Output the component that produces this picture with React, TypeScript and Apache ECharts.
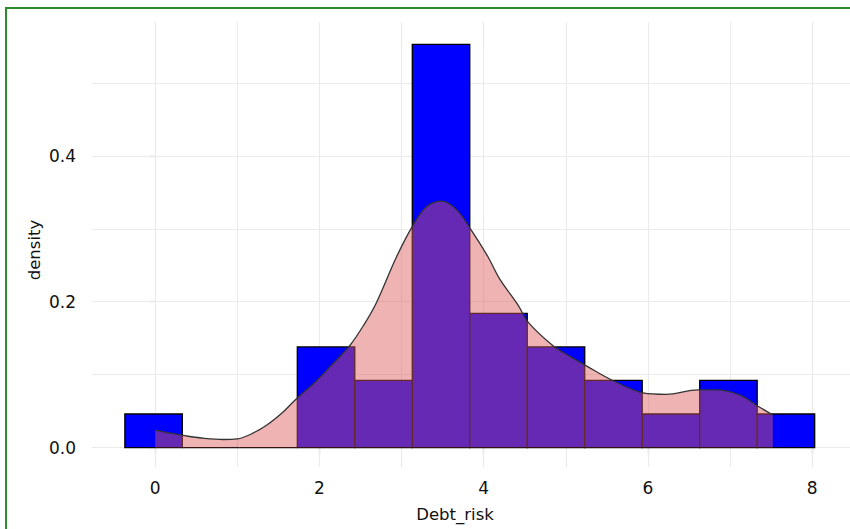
import React, { useEffect, useRef } from "react";
import * as echarts from "echarts";

// Histogram bins (Debt_risk), left edges and density heights
const binEdges = [-0.37, 0.33, 1.03, 1.73, 2.43, 3.13, 3.83, 4.53, 5.23, 5.93, 6.63, 7.33, 8.03];
const binDensity = [0.046, 0, 0, 0.138, 0.092, 0.553, 0.184, 0.138, 0.092, 0.046, 0.092, 0.046];

// Kernel density curve
const densityX = [0, 0.2, 0.4, 0.6, 0.83, 1.0, 1.15, 1.36, 1.55, 1.72, 1.95, 2.13, 2.37, 2.55, 2.69, 2.94, 3.14, 3.3, 3.49, 3.67, 3.85, 4.05, 4.19, 4.42, 4.54, 4.84, 5.05, 5.25, 5.57, 5.94, 6.22, 6.61, 6.83, 7.12, 7.32, 7.52];
const densityY = [0.024, 0.0195, 0.0155, 0.0125, 0.011, 0.0118, 0.0175, 0.031, 0.048, 0.067, 0.09, 0.111, 0.14, 0.17, 0.198, 0.262, 0.305, 0.33, 0.338, 0.326, 0.298, 0.262, 0.232, 0.195, 0.172, 0.14, 0.125, 0.112, 0.092, 0.075, 0.073, 0.079, 0.079, 0.072, 0.058, 0.0446];

const xTicks = [0, 2, 4, 6, 8];
const yTicks = [0, 0.2, 0.4];
const xGrid = [0, 1, 2, 3, 4, 5, 6, 7, 8];
const yGrid = [0, 0.1, 0.2, 0.3, 0.4, 0.5];

const FONT = "DejaVu Sans, Verdana, sans-serif";

export default function App() {
  const ref = useRef<HTMLDivElement>(null);
  useEffect(() => {
    document.body.style.margin = "0";
    if (!ref.current) return;
    const chart = echarts.init(ref.current, null, { renderer: "svg" });
    const histData = binDensity.map((h, i) => [binEdges[i], binEdges[i + 1], h]);
    const densData = densityX.map((x, i) => [x, densityY[i]]);
    const gridColor = "#ebebeb";
    chart.setOption({
      animation: false,
      grid: { left: 92, right: 0, top: 22, bottom: 62 },
      xAxis: {
        type: "value",
        min: -0.77,
        max: 8.46,
        axisLine: { show: false },
        splitLine: { show: false },
        axisTick: { show: true, length: 6, customValues: xTicks, lineStyle: { color: "#8a8a8a", width: 1.2 } },
        axisLabel: { customValues: xTicks, margin: 12, color: "#111111", fontSize: 17, fontFamily: FONT, formatter: (v: number) => String(v) },
      },
      yAxis: {
        type: "value",
        min: -0.0267,
        max: 0.5837,
        axisLine: { show: false },
        splitLine: { show: false },
        axisTick: { show: true, length: 6, customValues: yTicks, lineStyle: { color: "#8a8a8a", width: 1.2 } },
        axisLabel: { customValues: yTicks, margin: 16, color: "#111111", fontSize: 17, fontFamily: FONT, formatter: (v: number) => v.toFixed(1) },
      },
      graphic: [
        {
          type: "rect",
          shape: { x: 6, y: 8, width: 900, height: 600 },
          style: { fill: "none", stroke: "#2a8c2a", lineWidth: 2 },
          silent: true,
        },
        {
          type: "text",
          x: 455,
          y: 514,
          style: { text: "Debt_risk", fill: "#111111", font: `16.5px ${FONT}`, align: "center", verticalAlign: "middle" },
        },
        {
          type: "text",
          x: 34,
          y: 250,
          rotation: Math.PI / 2,
          style: { text: "density", fill: "#111111", font: `16.5px ${FONT}`, align: "center", verticalAlign: "middle" },
        },
      ],
      series: [
        {
          type: "line",
          data: [],
          z: 1,
          silent: true,
          markLine: {
            z: 1,
            silent: true,
            symbol: ["none", "none"],
            label: { show: false },
            lineStyle: { color: gridColor, width: 1.2, type: "solid" },
            emphasis: { disabled: true },
            data: [...yGrid.map((v) => ({ yAxis: v })), ...xGrid.map((v) => ({ xAxis: v }))],
          },
        },
        {
          type: "custom",
          z: 10,
          data: histData,
          encode: { x: [0, 1], y: 2 },
          renderItem: (params: any, api: any) => {
            const p0 = api.coord([api.value(0), api.value(2)]);
            const p1 = api.coord([api.value(1), 0]);
            return {
              type: "rect",
              shape: { x: p0[0], y: p0[1], width: p1[0] - p0[0], height: p1[1] - p0[1] },
              style: { fill: "#0000ff", stroke: "#000000", lineWidth: 1.3 },
            };
          },
        },
        {
          type: "line",
          z: 11,
          data: densData,
          smooth: 0.35,
          showSymbol: false,
          lineStyle: { color: "#333333", width: 1.3 },
          areaStyle: { color: "rgba(222,89,91,0.46)", opacity: 1 },
        },
      ],
    });
    return () => chart.dispose();
  }, []);
  return <div ref={ref} style={{ width: 850, height: 529 }} />;
}
